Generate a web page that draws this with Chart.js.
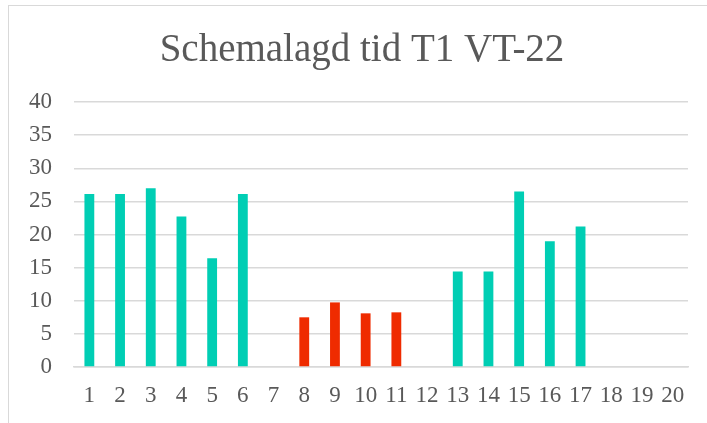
<!DOCTYPE html>
<html>
<head>
<meta charset="utf-8">
<script src="https://cdn.jsdelivr.net/npm/chart.js@4.4.0/dist/chart.umd.min.js"></script>
<style>
  html, body { margin: 0; padding: 0; background: #fff; }
  #wrap { position: relative; width: 707px; height: 423px; }
  #frame { position: absolute; left: 8px; top: 5px; width: 720px; height: 440px;
           border: 1px solid #d9d9d9; pointer-events: none; }
</style>
</head>
<body>
<div id="wrap">
  <canvas id="grafica" width="707" height="423"></canvas>
  <div id="frame"></div>
</div>
<script>
// Kategorier (veckor) och schemalagd tid
const veckor = ['1','2','3','4','5','6','7','8','9','10','11','12','13','14','15','16','17','18','19','20'];
const timmar = [26.1, 26.1, 27.0, 22.7, 16.4, 26.1, null, 7.5, 9.75, 8.1, 8.25, null, 14.4, 14.4, 26.5, 19.0, 21.2, null, null, null];
// veckor som visas i rött
const rodaVeckor = ['8', '9', '10', '11'];
const yTicks = [0, 5, 10, 15, 20, 25, 30, 35, 40];
const titel = 'Schemalagd tid T1 VT-22';

const teal = '#00CEB4';
const rod = '#EF2B00';
const farger = veckor.map(v => rodaVeckor.includes(v) ? rod : teal);

const fontFamily = "'Liberation Serif', 'DejaVu Serif', serif";

// Rubriken ritas centrerad över ramen (inte över ritytan)
const titelPlugin = {
    id: 'titel',
    afterDraw(chart) {
        const c = chart.ctx;
        c.save();
        c.font = "39px " + fontFamily;
        c.fillStyle = '#595959';
        c.textAlign = 'center';
        c.textBaseline = 'alphabetic';
        c.fillText(titel, 362, 61);
        c.restore();
    }
};

const ctx = document.getElementById('grafica').getContext('2d');
window.myChart = new Chart(ctx, {
    type: 'bar',
    data: {
        labels: veckor,
        datasets: [{
            label: 'Schemalagd tid',
            data: timmar,
            backgroundColor: farger,
            borderWidth: 0,
            barPercentage: 0.32,
            categoryPercentage: 1
        }]
    },
    plugins: [titelPlugin],
    options: {
        responsive: false,
        animation: false,
        layout: { padding: { left: 0, right: 19, top: 102, bottom: 0 } },
        plugins: {
            legend: { display: false },
            tooltip: { enabled: false },
            title: { display: false }
        },
        scales: {
            x: {
                grid: { display: false, drawTicks: false },
                border: { color: '#d9d9d9', width: 1.5 },
                ticks: {
                    color: '#595959',
                    font: { family: fontFamily, size: 23 },
                    padding: 15,
                    maxRotation: 0,
                    autoSkip: false
                },
                afterFit: (scale) => { scale.height = 56; }
            },
            y: {
                min: 0,
                max: 40,
                afterBuildTicks: (scale) => { scale.ticks = yTicks.map(v => ({ value: v })); },
                grid: { color: '#d9d9d9', lineWidth: 1.5, drawTicks: false },
                border: { display: false },
                ticks: {
                    color: '#595959',
                    font: { family: fontFamily, size: 23 },
                    padding: 22
                },
                afterFit: (scale) => { scale.width = 74; }
            }
        }
    }
});
</script>
</body>
</html>
